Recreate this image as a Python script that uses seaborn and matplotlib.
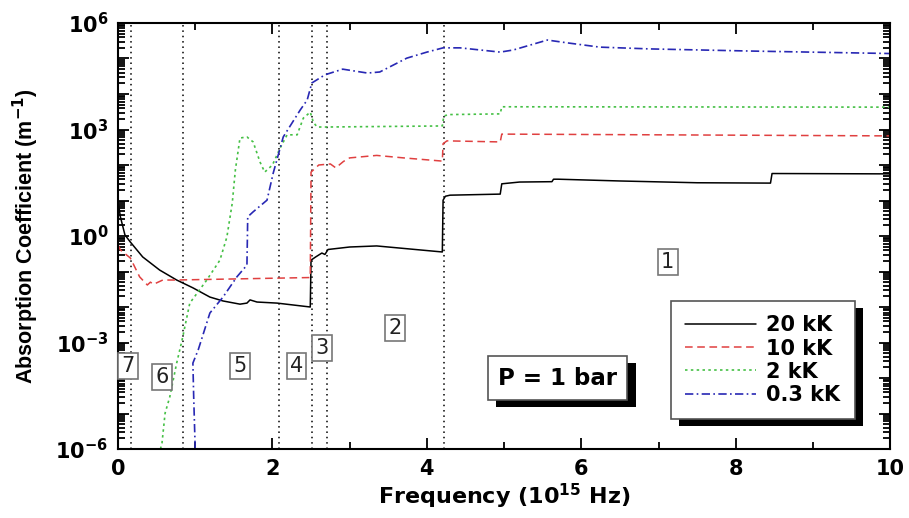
import numpy as np
import pandas as pd
import matplotlib
matplotlib.use("Agg")
import matplotlib.pyplot as plt
import matplotlib.ticker as mticker
import matplotlib.patheffects as pe
import seaborn as sns

# Absorption coefficient spectra at P = 1 bar (x in 1e15 Hz, y as log10 of m^-1)
freq_20kK = [0.0, 0.03, 0.09, 0.16, 0.32, 0.54, 0.76, 0.97, 1.19, 1.36, 1.58, 1.67,
             1.71, 1.80, 2.06, 2.49, 2.50, 2.56, 2.64, 2.68, 2.72, 3.00, 3.35, 4.20,
             4.21, 4.24, 4.30, 4.95, 4.97, 5.20, 5.62, 5.64, 5.70, 6.50, 7.50, 8.45,
             8.47, 10.0]
log_k_20kK = [1.0, 0.55, 0.03, -0.17, -0.59, -0.96, -1.24, -1.46, -1.72, -1.83, -1.92, -1.89,
              -1.80, -1.86, -1.89, -2.0, -0.68, -0.59, -0.48, -0.52, -0.38, -0.31, -0.28, -0.45,
              1.01, 1.12, 1.15, 1.18, 1.47, 1.52, 1.53, 1.60, 1.60, 1.55, 1.50, 1.49,
              1.76, 1.75]

freq_10kK = [0.0, 0.03, 0.16, 0.28, 0.38, 0.42, 0.46, 0.58, 0.75, 1.50, 2.49, 2.50,
             2.60, 2.75, 2.82, 2.92, 3.00, 3.35, 3.70, 4.20, 4.21, 4.26, 4.95, 4.97,
             6.0, 8.0, 10.0]
log_k_10kK = [-0.25, -0.39, -0.62, -1.15, -1.38, -1.30, -1.36, -1.24, -1.24, -1.21, -1.17, 1.80,
              2.00, 2.03, 1.92, 2.10, 2.20, 2.27, 2.20, 2.11, 2.60, 2.68, 2.65, 2.87,
              2.86, 2.84, 2.82]

freq_2kK = [0.55, 0.57, 0.61, 0.67, 0.76, 0.83, 0.93, 1.15, 1.32, 1.41, 1.48, 1.52,
            1.58, 1.67, 1.75, 1.84, 1.90, 2.00, 2.10, 2.19, 2.32, 2.40, 2.49, 2.53,
            2.58, 2.70, 4.20, 4.22, 4.28, 4.95, 4.97, 10.0]
log_k_2kK = [-6.0, -5.83, -4.99, -4.54, -3.58, -2.93, -1.89, -1.24, -0.68, -0.03, 0.93, 1.86,
             2.76, 2.79, 2.65, 2.08, 1.80, 2.00, 2.48, 2.85, 2.85, 3.32, 3.49, 3.20,
             3.07, 3.07, 3.10, 3.38, 3.42, 3.44, 3.64, 3.63]

freq_03kK = [1.00, 0.98, 0.97, 1.04, 1.19, 1.36, 1.54, 1.67, 1.68, 1.75, 1.93, 2.01,
             2.14, 2.36, 2.45, 2.51, 2.68, 2.91, 3.23, 3.39, 3.74, 4.00, 4.21, 4.43,
             4.95, 5.12, 5.56, 5.82, 6.24, 6.89, 8.19, 10.0]
log_k_03kK = [-6.0, -4.5, -3.58, -3.20, -2.17, -1.72, -1.15, -0.82, 0.54, 0.68, 1.01, 1.77,
              2.79, 3.55, 3.83, 4.31, 4.54, 4.70, 4.59, 4.62, 5.01, 5.18, 5.30, 5.30,
              5.18, 5.24, 5.52, 5.44, 5.32, 5.27, 5.21, 5.14]

series_labels = ["20 kK", "10 kK", "2 kK", "0.3 kK"]

# Spectral region boundaries and region numbers
region_edges = [0.17, 0.84, 2.09, 2.51, 2.71, 4.22]
region_names = ["1", "2", "3", "4", "5", "6", "7"]
region_x = [7.12, 3.59, 2.64, 2.31, 1.58, 0.57, 0.13]
region_logy = [-0.73, -2.59, -3.15, -3.66, -3.66, -3.97, -3.66]

x_ticks = [0, 2, 4, 6, 8, 10]
y_label_exponents = [-6, -3, 0, 3, 6]

sns.set_style("ticks")
plt.rcParams["mathtext.fontset"] = "custom"
plt.rcParams["mathtext.rm"] = "DejaVu Sans:bold"
plt.rcParams["mathtext.bf"] = "DejaVu Sans:bold"
plt.rcParams["font.family"] = ["DejaVu Sans"]
plt.rcParams["text.color"] = "black"
plt.rcParams["axes.labelcolor"] = "black"
plt.rcParams["xtick.color"] = "black"
plt.rcParams["ytick.color"] = "black"

fig = plt.figure(figsize=(9.09, 5.18), dpi=100)
ax = fig.add_axes([0.1298, 0.1332, 0.8495, 0.8224])

styles = [
    dict(color="black", linestyle="-", linewidth=1.1),
    dict(color="#e04040", linestyle=(0, (5, 3)), linewidth=1.1),
    dict(color="#45c045", linestyle=(0, (1.5, 2)), linewidth=1.2),
    dict(color="#2828b4", linestyle=(0, (5, 2, 1, 2)), linewidth=1.2),
]
xs = [freq_20kK, freq_10kK, freq_2kK, freq_03kK]
ys = [log_k_20kK, log_k_10kK, log_k_2kK, log_k_03kK]

for x, ly, lab, st in zip(xs, ys, series_labels, styles):
    df = pd.DataFrame({"f": x, "k": np.power(10.0, ly)})
    sns.lineplot(data=df, x="f", y="k", ax=ax, estimator=None, sort=False,
                 label=lab, **st)

for xe in region_edges:
    ax.axvline(xe, color="black", linestyle=(0, (1, 2.5)), linewidth=1.1, zorder=1)

ax.set_yscale("log")
ax.set_xlim(0, 10)
ax.set_ylim(1e-6, 1e6)

# ticks
ax.set_xticks(x_ticks)
ax.xaxis.set_minor_locator(mticker.FixedLocator([1, 3, 5, 7, 9]))
ax.yaxis.set_major_locator(mticker.LogLocator(base=10, numticks=20))
ax.yaxis.set_minor_locator(mticker.LogLocator(base=10, subs=np.arange(2, 10), numticks=200))
ax.yaxis.set_minor_formatter(mticker.NullFormatter())


def ylab(v, pos):
    e = int(round(np.log10(v)))
    return r"$\mathbf{10^{%d}}$" % e if e in y_label_exponents else ""


ax.yaxis.set_major_formatter(mticker.FuncFormatter(ylab))
ax.tick_params(which="both", direction="in", top=True, right=True, width=1.3,
               colors="black", labelcolor="black")
ax.tick_params(which="major", length=8, labelsize=15, pad=7)
ax.tick_params(which="minor", length=5)
for t in ax.get_xticklabels():
    t.set_fontweight("bold")
for s in ax.spines.values():
    s.set_linewidth(1.5)
    s.set_color("black")

ax.set_xlabel(r"Frequency (10$^{\mathbf{15}}$ Hz)", fontsize=16, fontweight="bold",
              labelpad=2, color="black")
ax.set_ylabel(r"Absorption Coefficient (m$^{\mathbf{-1}}$)", fontsize=15.5, fontweight="bold",
              family="Liberation Sans", labelpad=10, color="black")

# region labels
for name, rx, ry in zip(region_names, region_x, region_logy):
    ax.text(rx, 10 ** ry, name, fontsize=15, ha="center", va="center", color="#222222",
            bbox=dict(boxstyle="square,pad=0.15", facecolor="white", edgecolor="#777777", linewidth=1.2),
            zorder=5)

shadow = [pe.SimplePatchShadow(offset=(6, -5), shadow_rgbFace="black", alpha=1.0), pe.Normal()]

ptxt = ax.text(5.69, 1e-4, "P = 1 bar", fontsize=16.5, fontweight="bold", ha="center", va="center",
               color="black",
               bbox=dict(boxstyle="square,pad=0.45", facecolor="white", edgecolor="#555555", linewidth=1.2),
               zorder=6)
ptxt.get_bbox_patch().set_path_effects(shadow)

leg = ax.legend(loc="lower right", bbox_to_anchor=(0.968, 0.045), frameon=True, framealpha=1.0,
                fancybox=False, handlelength=3.4, handletextpad=0.5, labelspacing=0.15,
                borderpad=0.7, prop=dict(weight="bold", size=15), labelcolor="black")
leg.get_frame().set_edgecolor("#555555")
leg.get_frame().set_facecolor("white")
leg.get_frame().set_linewidth(1.2)
leg.get_frame().set_path_effects(shadow)
leg.set_zorder(7)

fig.savefig("out.png", dpi=100, facecolor="white")
